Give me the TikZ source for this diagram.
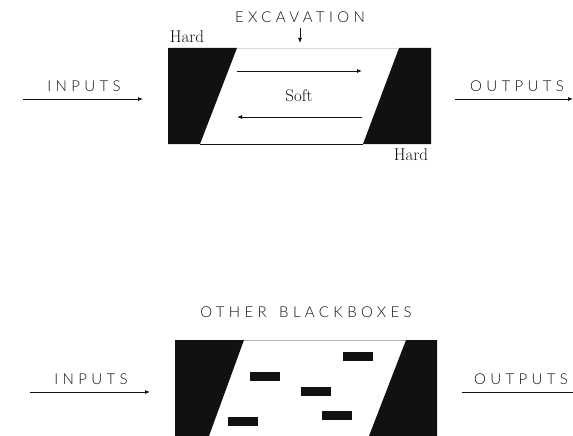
\documentclass[tikz,border=0pt]{standalone}
\usepackage{fontspec}
\usetikzlibrary{arrows.meta}
\newfontfamily\lblfont[LetterSpace=29]{Lato Light}
\definecolor{ink}{HTML}{111111}
\tikzset{
  lbl/.style={font=\lblfont\fontsize{15}{17}\selectfont, text=ink, inner sep=0pt, anchor=base},
  srf/.style={font=\fontsize{17}{19}\selectfont, text=ink, inner sep=0pt, anchor=base},
  arr/.style={draw=ink, line width=0.8pt, -{Latex[length=5pt,width=4pt]}},
  ln/.style={draw=ink, line width=0.8pt},
  blk/.style={fill=ink, draw=none},
}
\begin{document}
\begin{tikzpicture}[x=1pt,y=-1pt]
\useasboundingbox (0,0) rectangle (573,436);
% ---------- top diagram ----------
\fill[blk] (168,48) -- (237,48) -- (200,144) -- (168,144) -- cycle;
\fill[blk] (399,48) -- (431,48) -- (431,144) -- (363,144) -- cycle;
\draw[gray!30, line width=0.6pt] (237,48) -- (399,48);
\draw[ln] (200,144) -- (363,144);
\node[lbl] (exc) at (300,23) {EXCAVATION};
\coordinate (excA) at (300,28);
\coordinate (excB) at (300,43);
\draw[arr] (excA) -- (excB);
\node[srf] (hard1) at (187,43) {Hard};
\node[srf] (hard2) at (411,160) {Hard};
\node[srf] (soft) at (299,102) {Soft};
\coordinate (a1s) at (237,71); \coordinate (a1e) at (362,71);
\draw[arr] (a1s) -- (a1e);
\coordinate (a2s) at (362,117); \coordinate (a2e) at (237,117);
\draw[arr] (a2s) -- (a2e);
\node[lbl] (in1) at (84,92) {INPUTS};
\coordinate (in1s) at (23,99); \coordinate (in1e) at (143,99);
\draw[arr] (in1s) -- (in1e);
\node[lbl] (out1) at (517,92) {OUTPUTS};
\coordinate (out1s) at (455,99); \coordinate (out1e) at (573,99);
\draw[arr] (out1s) -- (out1e);
% ---------- bottom diagram ----------
\fill[blk] (175,340) -- (244,340) -- (209,436) -- (175,436) -- cycle;
\fill[blk] (406,340) -- (437,340) -- (437,436) -- (369,436) -- cycle;
\draw[gray!60, line width=0.6pt] (244,340) -- (406,340);
\node[lbl] (other) at (306,317) {OTHER\hspace{4pt} BLACKBOXES};
\fill[blk] (343,352) rectangle (373,361);
\fill[blk] (250,372) rectangle (280,381);
\fill[blk] (301,387) rectangle (331,396);
\fill[blk] (322,411) rectangle (352,420);
\fill[blk] (228,417) rectangle (258,426);
\node[lbl] (in2) at (91,384) {INPUTS};
\coordinate (in2s) at (30,392); \coordinate (in2e) at (150,392);
\draw[arr] (in2s) -- (in2e);
\node[lbl] (out2) at (521,384) {OUTPUTS};
\coordinate (out2s) at (462,392); \coordinate (out2e) at (573,392);
\draw[ln] (out2s) -- (out2e);
\end{tikzpicture}
\end{document}
